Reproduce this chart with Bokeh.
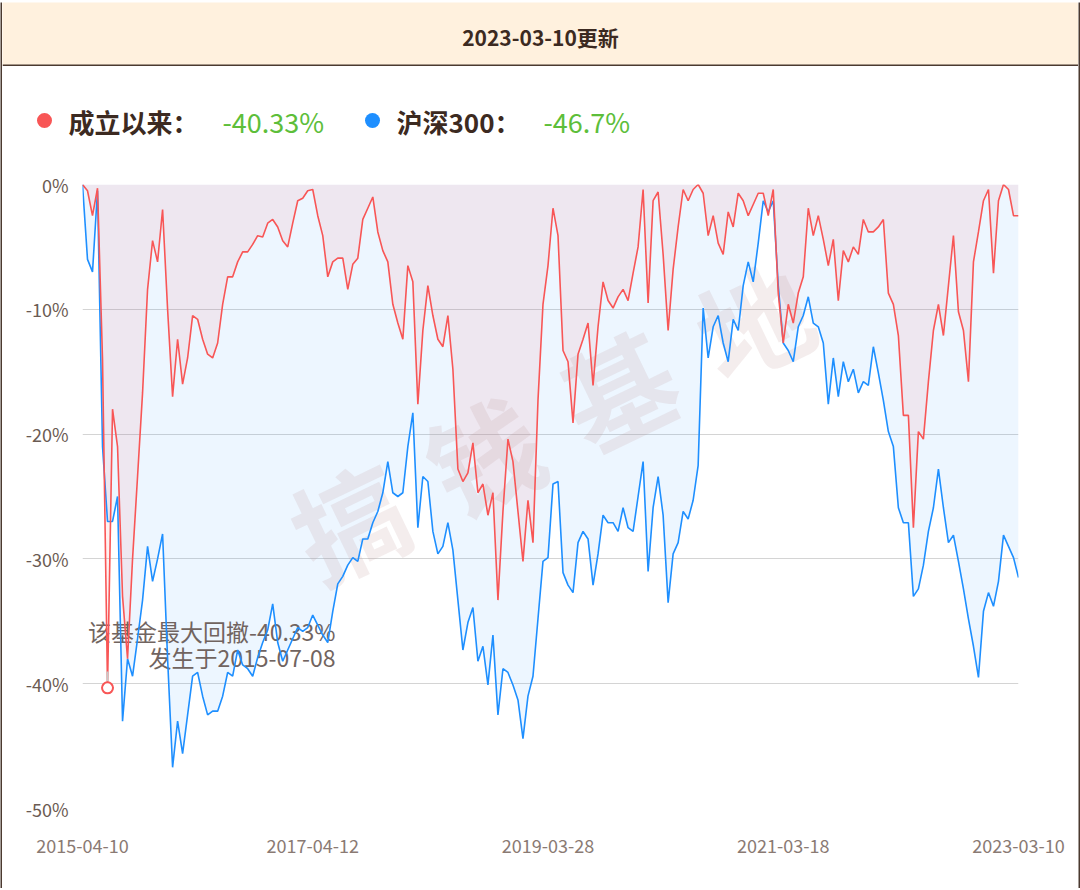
from bokeh.plotting import figure
from bokeh.layouts import column, row
from bokeh.models import Range1d, FixedTicker
from bokeh.embed import file_html
from bokeh.resources import INLINE
from bokeh.core.properties import value

# ---------------- data ----------------
update_date = "2023-03-10"
header_suffix = "更新"
x_tick_labels = ["2015-04-10", "2017-04-12", "2019-03-28", "2021-03-18", "2023-03-10"]
y_ticks = [0, -10, -20, -30, -40, -50]
y_tick_labels = ["0%", "-10%", "-20%", "-30%", "-40%", "-50%"]
legend_names = ["成立以来：", "沪深300："]
legend_values = ["-40.33%", "-46.7%"]
max_dd_text = "该基金最大回撤-40.33%"
max_dd_date_text = "发生于2015-07-08"
watermark_chars = ["搞", "钱", "基", "地"]

fund_dd = [
    0, -0.5, -2.5, -0.3, -14, -40.33, -18, -21, -33, -38,
    -30, -23.4, -16.7, -8.4, -4.5, -6.2, -2.0, -10, -17, -12.4,
    -16, -13.9, -10.5, -10.8, -12.4, -13.6, -13.9, -12.7, -9.6, -7.4,
    -7.4, -6.2, -5.4, -5.4, -4.8, -4.1, -4.2, -3.1,
    -2.8, -3.4, -4.5, -5.0, -3.1, -1.3, -1.1, -0.5, -0.4, -2.5,
    -4.1, -7.4, -6.2, -5.9, -5.9, -8.4, -6.4, -5.9, -2.8, -1.9,
    -1.0, -3.8, -5.3, -6.2, -9.6, -11.1, -12.4, -6.5, -7.8, -17.6,
    -11.7, -8.1, -10.5, -12.4, -13.0, -10.5, -14.8,
    -22.8, -23.8, -23.1, -20.7, -24.7, -24.0, -26.5, -24.7, -33.3, -26.2,
    -20.4, -22.2, -26.2, -30.2, -25.3, -28.7, -17.3, -9.6, -6.5, -1.9,
    -4.1, -13.3, -14.2, -19.1, -13.6, -12.4, -11.1, -16.1, -11.4, -7.8,
    -9.3, -9.9, -9.0, -8.4, -9.3, -7.1, -5.0, -0.4,
    -9.5, -1.3, -0.6, -5.6, -11.7, -6.8, -3.4, -0.4, -1.3, -0.4,
    0, -0.7, -4.1, -2.5, -4.7, -5.6, -2.2, -3.4, -0.7, -1.3,
    -2.5, -1.6, -0.7, -0.7, -2.5, -0.4, -8.7, -12.7, -9.6, -11.1,
    -8.7, -7.4, -1.9, -4.1, -2.5, -4.4, -6.5,
    -4.4, -9.3, -5.3, -6.2, -5.0, -5.6, -2.8, -3.8, -3.8, -3.4,
    -2.8, -8.7, -9.6, -12.1, -18.5, -18.5, -27.5, -19.8, -20.4, -15.8,
    -11.7, -9.6, -12.1, -8.1, -4.1, -10.2, -11.7, -15.8, -6.2, -3.8,
    -1.3, -0.4, -7.1, -1.3, 0, -0.4, -2.5, -2.5,
]

hs300_dd = [
    0, -6, -7, -0.5, -21, -27, -27, -25, -43, -38,
    -39.4, -36.4, -33.3, -29, -31.8, -30, -28, -38, -46.7, -43,
    -45.6, -42.5, -39.4, -39.1, -41, -42.5, -42.2, -42.2, -41, -39.1,
    -39.4, -37.3, -38.5, -38.8, -39.4, -37.9, -36.7, -35.7,
    -33.6, -36.7, -38.2, -37.3, -36.4, -35.5, -35.8, -35.5, -34.5, -35.3,
    -36.1, -36.7, -34.2, -32, -31.4, -30.5, -29.9, -30.2, -28.4, -28.4,
    -27.1, -26.2, -24.7, -22.2, -24.7, -25, -24.7, -21, -18.3, -27.5,
    -23.4, -23.8, -27.8, -29.6, -29, -27.1, -29.3,
    -33.3, -37.3, -35.1, -33.9, -38.2, -37, -40.1, -36.1, -42.5, -38.8,
    -39.1, -40.1, -41.3, -44.4, -41, -39.4, -34.8, -30.2, -29.9, -24,
    -23.8, -31.1, -32.1, -32.7, -28.7, -27.8, -28.4, -32.1, -29.6, -26.5,
    -27.1, -27.1, -27.8, -25.9, -27.5, -27.8, -25, -22.2,
    -31, -25.9, -23.4, -26.5, -33.5, -29.6, -28.7, -26.2, -26.8, -25.3,
    -22.5, -9.9, -13.9, -11.4, -10.5, -12.7, -14.2, -10.8, -11.7, -8.1,
    -6.2, -7.8, -4.7, -1.3, -2.2, -1.3, -8.1, -12.7, -13.3, -14.2,
    -11.4, -10.5, -9, -11.1, -11.4, -12.7, -17.6,
    -13.9, -17, -14.2, -15.8, -14.8, -16.7, -15.8, -16.1, -13, -15.1,
    -17.3, -19.8, -21, -25.9, -27.1, -27.1, -33, -32.4, -30.5, -27.8,
    -25.9, -22.8, -25.9, -28.7, -28.1, -30.2, -32.4, -34.8, -37, -39.5,
    -34.2, -32.7, -33.8, -31.8, -28.1, -29, -29.9, -31.5,
]

# ---------------- styles ----------------
FONT = "Noto Sans CJK SC"
BORDER = "#4B3A30"
DARK = "#3C2A21"
RED = "#F85656"
BLUE = "#1E8FFF"
GREEN = "#5DBE3A"
W = 1076  # content width between the 2px side borders

N = len(fund_dd)
idx = list(range(N))
x_tick_pos = [int(k * (N - 1) / 4) for k in range(5)]
imin = fund_dd.index(min(fund_dd))


def strip(w, h):
    s = figure(width=w, height=h, x_range=Range1d(0, 1), y_range=Range1d(0, 1),
               x_axis_type=None, y_axis_type=None, output_backend="svg",
               toolbar_location=None, min_border=0)
    s.background_fill_color = BORDER
    s.border_fill_color = BORDER
    s.outline_line_color = None
    s.frame_align = False
    return s


# ---------------- header ----------------
HH = 64
hdr = figure(width=W, height=HH, x_range=Range1d(0, W), y_range=Range1d(HH, 0),
             x_axis_type=None, y_axis_type=None, output_backend="svg",
             toolbar_location=None, min_border=0)
hdr.frame_align = False
hdr.background_fill_color = "#FFF1DE"
hdr.border_fill_color = "#FFF1DE"
hdr.outline_line_color = None
hdr.text(x=[W / 2], y=[34], text=[update_date + header_suffix],
         text_font=value(FONT), text_font_size="21px", text_font_style="bold",
         text_color=DARK, text_align="center", text_baseline="middle")
hdr.segment(x0=[0], y0=[HH - 1], x1=[W], y1=[HH - 1], line_color=BORDER, line_width=2)

# ---------------- legend ----------------
LH = 94
leg = figure(width=W, height=LH, x_range=Range1d(0, W), y_range=Range1d(LH, 0),
             x_axis_type=None, y_axis_type=None, output_backend="svg",
             toolbar_location=None, min_border=0)
leg.frame_align = False
leg.background_fill_color = "white"
leg.border_fill_color = "white"
leg.outline_line_color = None
leg.scatter(x=[42, 370], y=[54, 54], size=15, marker="circle",
            fill_color=[RED, BLUE], line_color=None)
leg.text(x=[66, 394], y=[55, 55], text=legend_names,
         text_font=value(FONT), text_font_size="26px", text_font_style="bold",
         text_color=DARK, text_align="left", text_baseline="middle")
leg.text(x=[220, 541], y=[55, 55], text=legend_values,
         text_font=value(FONT), text_font_size="27px",
         text_color=GREEN, text_align="left", text_baseline="middle")

# ---------------- main chart ----------------
MH = 728
main = figure(width=W, height=MH, x_range=Range1d(0, N - 1), y_range=Range1d(-50, 0),
              output_backend="svg", toolbar_location=None,
              min_border_left=80, min_border_right=60, min_border_top=24, min_border_bottom=80)
main.background_fill_color = "white"
main.border_fill_color = "white"
main.outline_line_color = None
main.xgrid.visible = False
main.ygrid.ticker = FixedTicker(ticks=y_ticks)
main.ygrid.grid_line_color = "#D4D4D4"
main.ygrid.grid_line_width = 1

main.yaxis.ticker = FixedTicker(ticks=y_ticks)
main.yaxis.major_label_overrides = dict(zip(y_ticks, y_tick_labels))
main.yaxis.axis_line_color = None
main.yaxis.major_tick_line_color = None
main.yaxis.minor_tick_line_color = None
main.yaxis.major_tick_out = 0
main.yaxis.major_label_standoff = 14
main.yaxis.major_label_text_font = FONT
main.yaxis.major_label_text_font_size = "18px"
main.yaxis.major_label_text_color = "#6B5B53"

main.xaxis.ticker = FixedTicker(ticks=x_tick_pos)
main.xaxis.major_label_overrides = dict(zip(x_tick_pos, x_tick_labels))
main.xaxis.axis_line_color = None
main.xaxis.major_tick_line_color = None
main.xaxis.minor_tick_line_color = None
main.xaxis.major_tick_out = 0
main.xaxis.major_label_standoff = 30
main.xaxis.major_label_text_font = FONT
main.xaxis.major_label_text_font_size = "18px"
main.xaxis.major_label_text_color = "#8A7A73"

# areas
main.varea(x=idx, y1=0, y2=hs300_dd, fill_color="#1890FF", fill_alpha=0.08)
main.varea(x=idx, y1=0, y2=fund_dd, fill_color="#FF5555", fill_alpha=0.09)


# watermark (decorative), placed by pixel position in the plot frame
def frame_px(px, py):
    return ((px - 82) * (N - 1) / 936.0, -(py - 184) / 12.48)


wm_pos = [frame_px(348, 518), frame_px(482, 452), frame_px(617, 386), frame_px(752, 318)]
main.text(x=[p[0] for p in wm_pos], y=[p[1] for p in wm_pos], text=watermark_chars,
          angle=0.45, text_font=value(FONT), text_font_size="112px", text_font_style="bold",
          text_color="#B88E8E", text_alpha=0.16, text_align="center", text_baseline="middle")

# max drawdown annotation (under the lines)
main.text(x=[imin], y=[fund_dd[imin]], text=[max_dd_text], x_offset=228, y_offset=-57,
          text_font=value(FONT), text_font_size="23px", text_color="#716460",
          text_align="right", text_baseline="middle")
main.text(x=[imin], y=[fund_dd[imin]], text=[max_dd_date_text], x_offset=228, y_offset=-31,
          text_font=value(FONT), text_font_size="23px", text_color="#716460",
          text_align="right", text_baseline="middle")

# lines
main.line(idx, hs300_dd, line_color=BLUE, line_width=1.6)
main.line(idx, fund_dd, line_color=RED, line_width=1.6)

# marker
main.segment(x0=[imin], y0=[fund_dd[imin] + 0.5], x1=[imin], y1=[fund_dd[imin] + 1.3],
             line_color="#C8C8C8", line_width=2)
main.scatter([imin], [fund_dd[imin]], size=11, marker="circle",
             line_color=RED, line_width=2, fill_color="white")

content = column(hdr, leg, main)
mid = row(strip(2, HH + LH + MH), content, strip(2, HH + LH + MH))
layout = column(strip(1080, 2), mid, strip(1080, 2))

open("out.html", "w").write(file_html(layout, INLINE))
